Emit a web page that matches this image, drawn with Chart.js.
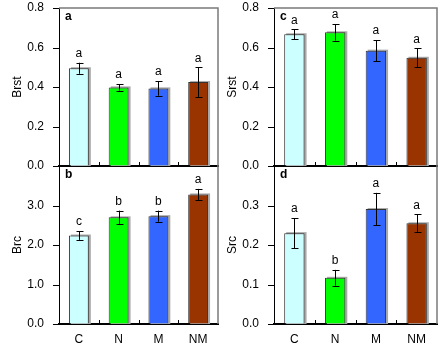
<!DOCTYPE html>
<html>
<head>
<meta charset="utf-8">
<script src="https://cdn.jsdelivr.net/npm/chart.js@4"></script>
<style>
  body { margin: 0; background: #fff; }
  #wrap { position: relative; width: 442px; height: 359px; overflow: hidden; }
  .panel { position: absolute; }
</style>
</head>
<body>
<div id="wrap">
  <div class="panel" style="left:0;top:0;width:221px;height:180px"><canvas id="chartA"></canvas></div>
  <div class="panel" style="left:0;top:155px;width:221px;height:204px"><canvas id="chartB"></canvas></div>
  <div class="panel" style="left:215px;top:0;width:227px;height:180px"><canvas id="chartC"></canvas></div>
  <div class="panel" style="left:215px;top:155px;width:227px;height:204px"><canvas id="chartD"></canvas></div>
</div>
<script>
"use strict";

// treatments
const groups = ["C", "N", "M", "NM"];
const barColors = ["#CCFFFF", "#00FF00", "#3366FF", "#993300"];

// panel a
const brstMean = [0.495, 0.398, 0.393, 0.425];
const brstErr = [0.028, 0.017, 0.037, 0.075];
const brstLetters = ["a", "a", "a", "a"];
// panel b
const brcMean = [2.24, 2.70, 2.73, 3.28];
const brcErr = [0.11, 0.17, 0.14, 0.14];
const brcLetters = ["c", "b", "b", "a"];
// panel c
const srstMean = [0.667, 0.677, 0.584, 0.548];
const srstErr = [0.025, 0.042, 0.054, 0.048];
const srstLetters = ["a", "a", "a", "a"];
// panel d
const srcMean = [0.230, 0.117, 0.291, 0.255];
const srcErr = [0.038, 0.020, 0.041, 0.023];
const srcLetters = ["a", "b", "a", "a"];

const fontFam = "'Liberation Sans', Arial, sans-serif";

// draws shadows, error bars, letters, frame and tick marks
const panelPlugin = {
  id: "panelPlugin",
  beforeDatasetsDraw(chart) {
    const ctx = chart.ctx;
    const meta = chart.getDatasetMeta(0);
    const area = chart.chartArea;
    ctx.save();
    ctx.fillStyle = "#a8a8a8";
    meta.data.forEach(function (bar) {
      let w = bar.width;
      ctx.fillRect(bar.x - w / 2 + 2, bar.y - 1, w, area.bottom - bar.y + 1);
    });
    ctx.restore();
  },
  afterDraw(chart) {
    const ctx = chart.ctx;
    const opts = chart.options.plugins.panelPlugin;
    const area = chart.chartArea;
    const yScale = chart.scales.y;
    const meta = chart.getDatasetMeta(0);
    ctx.save();
    // frame top + right
    ctx.strokeStyle = "#7a7a7a";
    ctx.lineWidth = 1.5;
    ctx.beginPath();
    if (opts.top) {
      ctx.moveTo(area.left, area.top);
      ctx.lineTo(area.right, area.top);
    } else {
      ctx.moveTo(area.right, area.top);
    }
    ctx.lineTo(area.right, area.bottom);
    ctx.stroke();

    ctx.strokeStyle = "#000";
    ctx.lineWidth = 1;
    // y tick marks (outside)
    yScale.ticks.forEach(function (t) {
      let y = Math.round(yScale.getPixelForValue(t.value)) + 0.5;
      ctx.beginPath();
      ctx.moveTo(area.left - 6, y);
      ctx.lineTo(area.left, y);
      ctx.stroke();
    });
    // x axis ticks between categories (pointing up)
    const step = (area.right - area.left) / groups.length;
    for (let i = 1; i < groups.length; i++) {
      let x = Math.round(area.left + step * i) + 0.5;
      ctx.beginPath();
      ctx.moveTo(x, area.bottom);
      ctx.lineTo(x, area.bottom - 4);
      ctx.stroke();
    }

    // error bars + letters
    ctx.fillStyle = "#000";
    ctx.font = "12px " + fontFam;
    ctx.textAlign = "center";
    ctx.textBaseline = "bottom";
    meta.data.forEach(function (bar, i) {
      let mean = opts.means[i];
      let err = opts.errs[i];
      let yHi = yScale.getPixelForValue(mean + err);
      let yLo = yScale.getPixelForValue(mean - err);
      let x = Math.round(bar.x) + 0.5;
      ctx.beginPath();
      ctx.moveTo(x, yHi);
      ctx.lineTo(x, yLo);
      ctx.moveTo(x - 3, Math.round(yHi) + 0.5);
      ctx.lineTo(x + 4, Math.round(yHi) + 0.5);
      ctx.moveTo(x - 3, Math.round(yLo) + 0.5);
      ctx.lineTo(x + 4, Math.round(yLo) + 0.5);
      ctx.stroke();
      ctx.fillText(opts.letters[i], bar.x, yHi - 3);
    });

    // panel letter
    ctx.font = "bold 12px " + fontFam;
    ctx.textAlign = "left";
    ctx.textBaseline = "top";
    ctx.fillText(opts.panel, area.left + 6, area.top + 3);
    ctx.restore();
  }
};

function makePanel(canvasId, means, errs, letters, panel, title, yMax, yStep, bottomPanel, padRight) {
  const config = {
    type: "bar",
    data: {
      labels: groups,
      datasets: [
        {
          data: means,
          backgroundColor: barColors,
          borderColor: "#333333",
          borderWidth: 1,
          barPercentage: 1,
          categoryPercentage: 0.5
        }
      ]
    },
    options: {
      responsive: true,
      maintainAspectRatio: false,
      animation: false,
      layout: {
        padding: bottomPanel
          ? { top: 11, right: padRight, bottom: 0, left: 0 }
          : { top: 8, right: padRight, bottom: 14, left: 0 }
      },
      plugins: {
        legend: { display: false },
        tooltip: { enabled: false },
        panelPlugin: { means: means, errs: errs, letters: letters, panel: panel, top: !bottomPanel }
      },
      scales: {
        x: {
          grid: { display: false, drawTicks: false },
          border: { display: true, color: "#000", width: 2 },
          ticks: {
            display: bottomPanel,
            color: "#000",
            padding: 8,
            font: { family: fontFam, size: 12 }
          },
          afterFit(s) {
            s.height = bottomPanel ? 35 : 0;
          }
        },
        y: {
          min: 0,
          max: yMax,
          // tick marks drawn by the plugin, this only keeps the label gap
          grid: { drawOnChartArea: false, tickLength: 15, color: "rgba(0,0,0,0)" },
          border: { color: "#000", width: 1 },
          ticks: {
            stepSize: yStep,
            color: "#000",
            padding: 0,
            font: { family: fontFam, size: 12 },
            callback: function (v) {
              if (bottomPanel && Math.abs(v - yMax) < 1e-9) return "";
              return Number(v).toFixed(1);
            }
          },
          title: {
            display: true,
            text: title,
            color: "#000",
            padding: { top: 10, bottom: 0 },
            font: { family: fontFam, size: 12 }
          },
          afterFit(s) {
            s.width = 59;
          }
        }
      }
    },
    plugins: [panelPlugin]
  };
  return new Chart(document.getElementById(canvasId), config);
}

makePanel("chartA", brstMean, brstErr, brstLetters, "a", "Brst", 0.8, 0.2, false, 3);
makePanel("chartB", brcMean, brcErr, brcLetters, "b", "Brc", 4, 1, true, 3);
makePanel("chartC", srstMean, srstErr, srstLetters, "c", "Srst", 0.8, 0.2, false, 5);
makePanel("chartD", srcMean, srcErr, srcLetters, "d", "Src", 0.4, 0.1, true, 5);
</script>
</body>
</html>
